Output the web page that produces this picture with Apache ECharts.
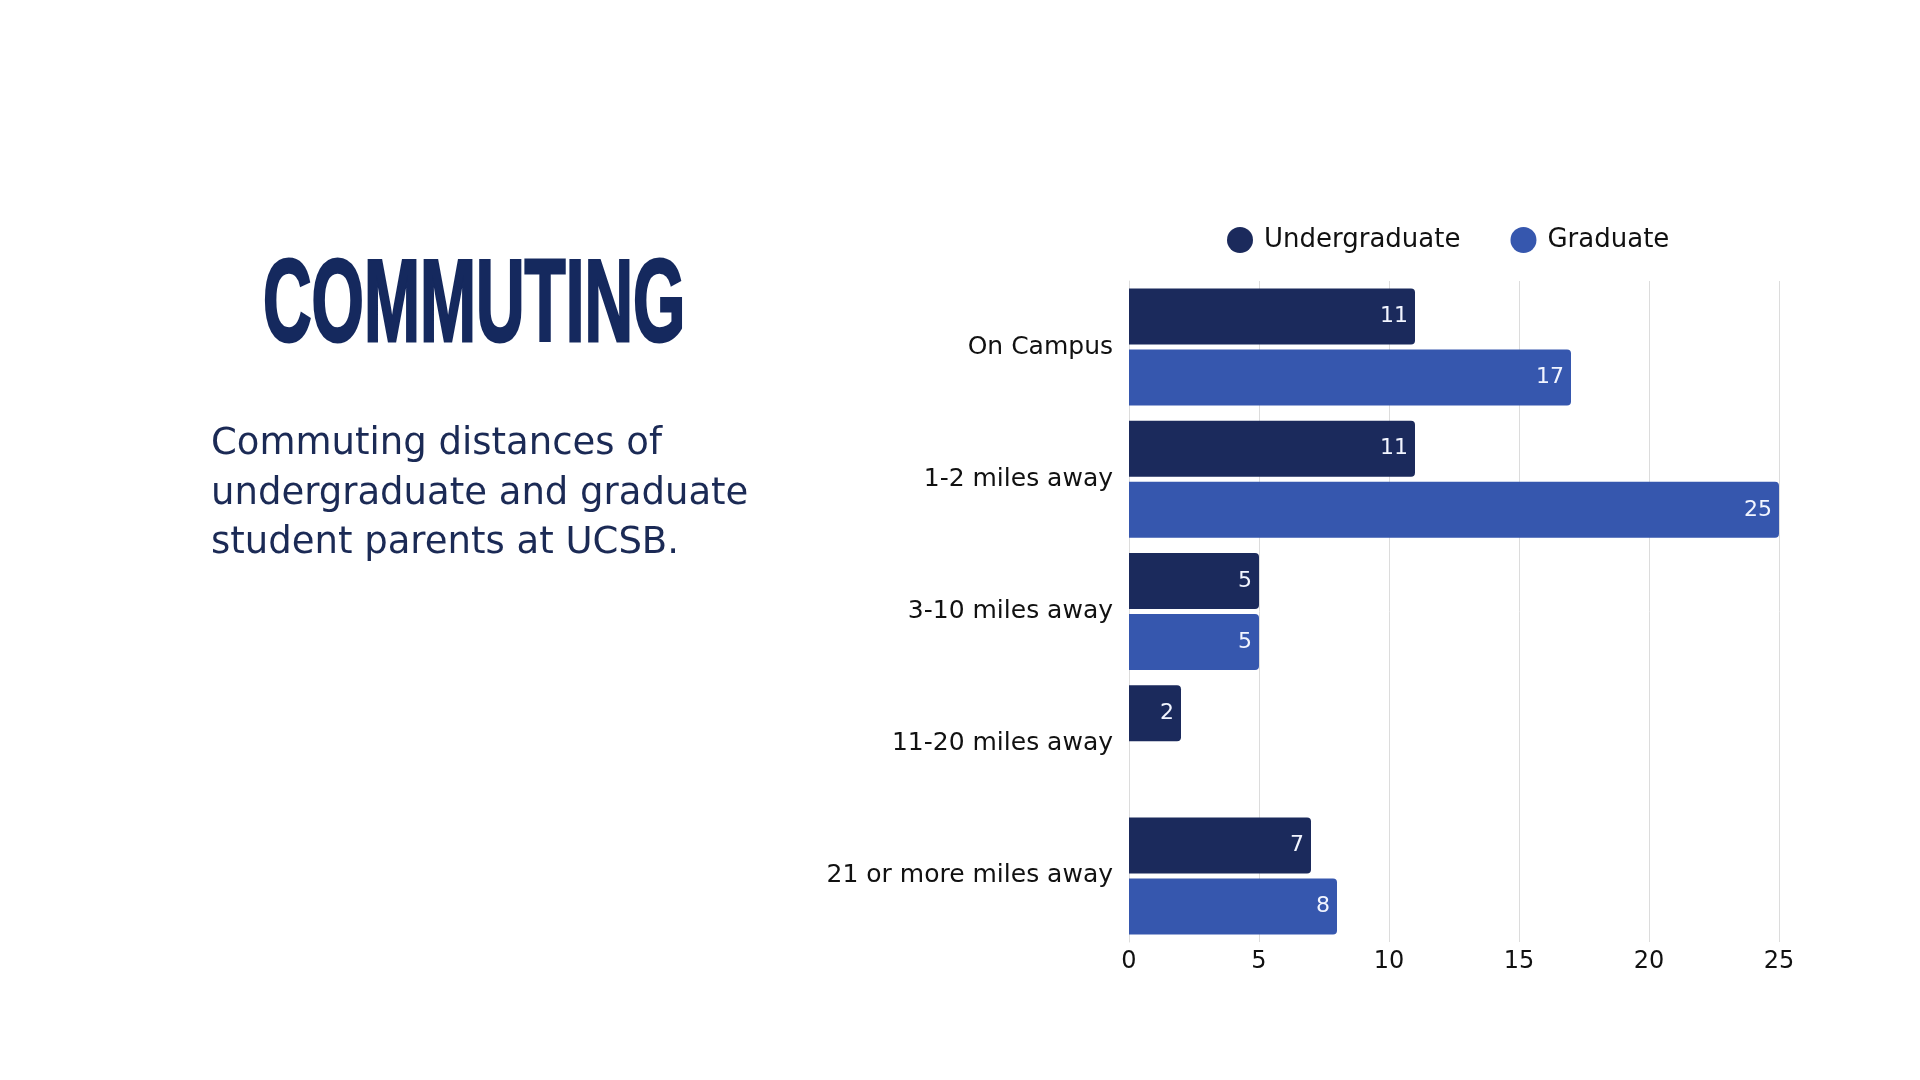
<!DOCTYPE html>
<html>
<head>
<meta charset="utf-8">
<title>Commuting</title>
<script src="https://cdn.jsdelivr.net/npm/echarts@6/dist/echarts.min.js"></script>
<style>
  html, body { margin: 0; padding: 0; background: #fff; }
  #chart { width: 1920px; height: 1080px; }
</style>
</head>
<body>
<div id="chart"></div>
<script>
// categories and values
var categories = ['On Campus', '1-2 miles away', '3-10 miles away', '11-20 miles away', '21 or more miles away'];
var undergraduate = [11, 11, 5, 2, 7];
var graduate = [17, 25, 5, null, 8];
var seriesNames = ['Undergraduate', 'Graduate'];
var xTicks = [0, 5, 10, 15, 20, 25];

var navy = '#1b2a5c';
var blue = '#3657ae';
var font = '"DejaVu Sans", "Noto Sans", sans-serif';

var chart = echarts.init(document.getElementById('chart'));

var barLabel = {
  show: true,
  position: 'insideRight',
  distance: 7,
  color: '#f2f5ff',
  fontFamily: font,
  fontSize: 22
};

chart.setOption({
  backgroundColor: '#ffffff',
  textStyle: { fontFamily: font },
  legend: {
    data: seriesNames,
    left: 1222,
    top: 222,
    icon: 'circle',
    itemWidth: 26,
    itemHeight: 26,
    itemGap: 50,
    textStyle: { fontSize: 26, color: '#111', fontFamily: font, padding: [0, 0, 0, 6] }
  },
  grid: { left: 1129, right: 141, top: 281, bottom: 138, containLabel: false },
  xAxis: {
    type: 'value',
    min: xTicks[0],
    max: xTicks[xTicks.length - 1],
    interval: 5,
    axisLine: { show: false },
    axisTick: { show: false },
    splitLine: { show: true, lineStyle: { color: '#dcdcdc', width: 1 } },
    axisLabel: { color: '#111', fontSize: 24, margin: 8, fontFamily: font }
  },
  yAxis: {
    type: 'category',
    data: categories,
    inverse: true,
    axisLine: { show: true, lineStyle: { color: '#dcdcdc' } },
    axisTick: { show: false },
    axisLabel: { color: '#111', fontSize: 25, margin: 16, fontFamily: font }
  },
  series: [
    {
      name: seriesNames[0],
      type: 'bar',
      data: undergraduate,
      barWidth: 56,
      barGap: '9%',
      itemStyle: { color: navy, borderRadius: [0, 4, 4, 0] },
      label: barLabel
    },
    {
      name: seriesNames[1],
      type: 'bar',
      data: graduate,
      barWidth: 56,
      barGap: '9%',
      itemStyle: { color: blue, borderRadius: [0, 4, 4, 0] },
      label: barLabel
    }
  ],
  graphic: [
    {
      type: 'text',
      x: 263,
      y: 251,
      scaleX: 0.58,
      style: {
        text: 'COMMUTING',
        fill: '#15295e',
        stroke: '#15295e',
        lineWidth: 3,
        font: 'bold 116px "Liberation Sans", Arial, sans-serif'
      }
    },
    {
      type: 'text',
      x: 211,
      y: 420,
      style: {
        text: 'Commuting distances of\nundergraduate and graduate\nstudent parents at UCSB.',
        fill: '#1b2a55',
        fontFamily: font,
        fontSize: 37,
        lineHeight: 49.5
      }
    }
  ]
});
</script>
</body>
</html>
